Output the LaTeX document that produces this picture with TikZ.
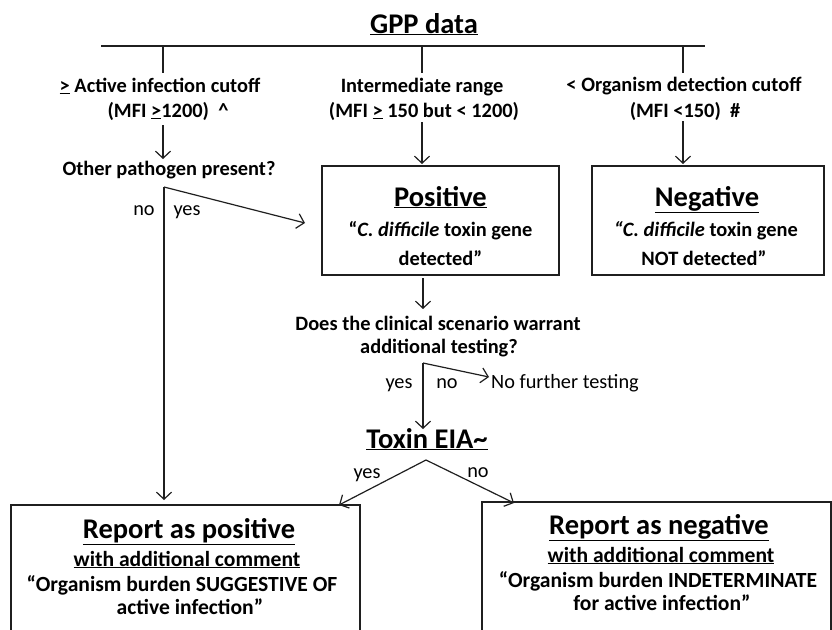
\documentclass[tikz,border=0pt]{standalone}
\usepackage{fontspec}
\setmainfont{Carlito}
\usetikzlibrary{arrows.meta}
\begin{document}
\begin{tikzpicture}[x=1pt,y=-1pt,
  ln/.style={draw=black!88, line width=1.2pt},
  arr/.style={ln, -{Straight Barb[length=7pt,width=15pt,line width=1.2pt]}},
  box/.style={draw=black!88, line width=1.3pt},
  txt/.style={font=\bfseries\fontsize{20.4}{22}\selectfont, anchor=base, inner sep=0pt},
  btxt/.style={font=\bfseries\fontsize{21.6}{23}\selectfont, anchor=base, inner sep=0pt},
  rtxt/.style={font=\fontsize{20.3}{22}\selectfont, anchor=base, inner sep=0pt},
  big/.style={font=\bfseries\fontsize{28.5}{30}\selectfont, anchor=base, inner sep=0pt}]
\useasboundingbox (0,0) rectangle (832,629);
\clip (0,0) rectangle (832,629);

% title and top bar
\node[big] (gpp) at (424,33) {\underline{GPP data}};
\coordinate (barL) at (101,46);
\coordinate (barR) at (705,46);
\coordinate (t1) at (163,46);
\coordinate (t2) at (422,46);
\coordinate (t3) at (683,46);
\coordinate (b1) at (163,73);
\coordinate (b2) at (422,73);
\coordinate (b3) at (683,73);
\draw[ln] (barL) -- (barR);
\draw[ln] (t1) -- (b1);
\draw[ln] (t2) -- (b2);
\draw[ln] (t3) -- (b3);

% three ranges
\node[txt] (act1) at (160,92) {\underline{>} Active infection cutoff};
\node[txt] (act2) at (168,117) {(MFI \underline{>}1200)~~\textasciicircum};
\node[txt] (int1) at (422,92) {Intermediate range};
\node[txt] (int2) at (424,117) {(MFI \underline{>} 150 but < 1200)};
\node[txt] (org1) at (684,91) {< Organism detection cutoff};
\node[txt] (org2) at (685,117) {(MFI <150)~~\#};

\coordinate (a1s) at (163,125);
\coordinate (a1e) at (163,159);
\coordinate (a2s) at (422,122);
\coordinate (a2e) at (422,164);
\coordinate (a3s) at (683,121);
\coordinate (a3e) at (683,164);
\draw[arr] (a1s) -- (a1e);
\draw[arr] (a2s) -- (a2e);
\draw[arr] (a3s) -- (a3e);

\node[txt] (other) at (169,175) {Other pathogen present?};

% Positive / Negative boxes
\draw[box] (322,166) rectangle (559,275);
\node[big] (pos) at (440.5,206) {\underline{Positive}};
\node[txt] (pos2) at (440.5,236) {“\textit{C. difficile} toxin gene};
\node[txt] (pos3) at (440.5,265) {detected”};

\draw[box] (592,166) rectangle (824,275);
\node[big] (neg) at (707,206) {\underline{Negative}};
\node[txt] (neg2) at (706,236) {\textit{“C. difficile} toxin gene};
\node[txt] (neg3) at (704,265) {NOT detected”};

% other pathogen branch
\coordinate (op) at (164,187);
\coordinate (opYes) at (305,223);
\coordinate (opNo) at (164,500);
\draw[arr] (op) -- (opYes);
\draw[arr] (op) -- (opNo);
\node[rtxt] (no1) at (144,215) {no};
\node[rtxt] (yes1) at (187,215) {yes};

% positive -> question
\coordinate (p1) at (423,278);
\coordinate (p2) at (423,309);
\draw[arr] (p1) -- (p2);
\node[txt] (q1) at (438,330) {Does the clinical scenario warrant};
\node[txt] (q2) at (439,353) {additional testing?};

\coordinate (qd) at (423,363);
\coordinate (qNo) at (489,377);
\coordinate (qYes) at (423,429);
\draw[arr] (qd) -- (qNo);
\draw[arr] (qd) -- (qYes);
\node[rtxt] (yes2) at (399,388) {yes};
\node[rtxt] (no2) at (447,388) {no};
\node[rtxt, anchor=base west] (nft) at (491,388) {No further testing};

% toxin EIA
\node[big] (eia) at (427,448) {\underline{Toxin EIA\textasciitilde}};
\coordinate (ea) at (426,460);
\coordinate (eL) at (339,505);
\coordinate (eR) at (514,503);
\draw[arr] (ea) -- (eL);
\draw[arr] (ea) -- (eR);
\node[rtxt] (yes3) at (367,478) {yes};
\node[rtxt] (no3) at (478,477) {no};

% report boxes
\draw[box] (11,505) rectangle (360,650);
\node[big] (rp1) at (189,538) {\underline{Report as positive}};
\node[btxt] (rp2) at (187,566) {\underline{with additional comment}};
\node[btxt] (rp3) at (182,591) {“Organism burden SUGGESTIVE OF};
\node[btxt] (rp4) at (190,614) {active infection”};

\draw[box] (482,502) rectangle (831,650);
\node[big] (rn1) at (659,534) {\underline{Report as negative}};
\node[btxt] (rn2) at (661,562) {\underline{with additional comment}};
\node[btxt] (rn3) at (658,587) {“Organism burden INDETERMINATE};
\node[btxt] (rn4) at (662,610) {for active infection”};
\end{tikzpicture}
\end{document}
